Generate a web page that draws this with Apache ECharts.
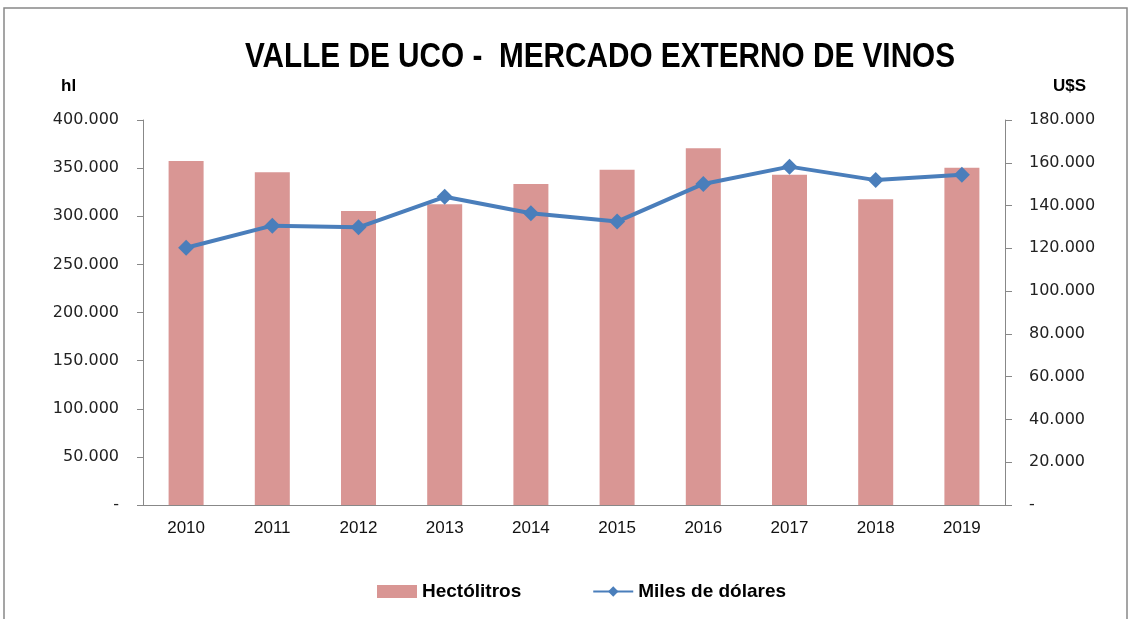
<!DOCTYPE html>
<html>
<head>
<meta charset="utf-8">
<script src="https://cdn.jsdelivr.net/npm/echarts@6/dist/echarts.min.js"></script>
<style>
  html, body { margin: 0; padding: 0; background: #fff; }
  #main { width: 1131px; height: 619px; }
</style>
</head>
<body>
<div id="main"></div>
<script>
var years = ['2010', '2011', '2012', '2013', '2014', '2015', '2016', '2017', '2018', '2019'];
var hectolitros = [357400, 345600, 305500, 312400, 333500, 348400, 370600, 343200, 317600, 350500];
var milesDolares = [120300, 130600, 129800, 144100, 136400, 132500, 150100, 158200, 151900, 154400];

function fmt(v) {
    if (v === 0) return '-';
    return v.toLocaleString('de-DE');
}

var font = "'Liberation Sans', sans-serif";
var tickFont = "'DejaVu Sans', sans-serif";

var myChart = echarts.init(document.getElementById('main'));
var option = {
    backgroundColor: '#fff',
    graphic: [
        { type: 'rect', shape: { x: 4, y: 8, width: 1123, height: 640 }, style: { fill: 'none', stroke: '#888', lineWidth: 1.5 }, silent: true },
        {
            type: 'text', x: 600, y: 40, scaleX: 0.85,
            style: { text: 'VALLE DE UCO -  MERCADO EXTERNO DE VINOS', font: 'bold 35px ' + font, fill: '#000', textAlign: 'center' }
        },
        { type: 'text', left: 61, top: 78, style: { text: 'hl', font: 'bold 17px ' + font, fill: '#000' } },
        { type: 'text', left: 1053, top: 78, style: { text: 'U$S', font: 'bold 17px ' + font, fill: '#000' } }
    ],
    legend: {
        bottom: 13,
        left: 372,
        itemGap: 71,
        itemWidth: 40,
        itemHeight: 13,
        textStyle: { fontFamily: font, fontSize: 19, fontWeight: 'bold', color: '#000' },
        data: [
            { name: 'Hectólitros', icon: 'rect' },
            { name: 'Miles de dólares' }
        ]
    },
    grid: { left: 143, right: 126, top: 120, bottom: 114 },
    xAxis: {
        type: 'category',
        data: years,
        boundaryGap: true,
        axisLine: { lineStyle: { color: '#888' } },
        axisTick: { length: 7, lineStyle: { color: '#888' } },
        axisLabel: { margin: 15, fontFamily: font, fontSize: 17, color: '#111' }
    },
    yAxis: [
        {
            type: 'value',
            min: 0, max: 400000, interval: 50000,
            axisLine: { show: true, lineStyle: { color: '#888' } },
            axisTick: { show: true, length: 6, lineStyle: { color: '#888' } },
            splitLine: { show: false },
            axisLabel: { formatter: fmt, margin: 24, fontFamily: tickFont, fontSize: 16, color: '#222' }
        },
        {
            type: 'value',
            min: 0, max: 180000, interval: 20000,
            position: 'right',
            axisLine: { show: true, lineStyle: { color: '#888' } },
            axisTick: { show: true, length: 7, lineStyle: { color: '#888' } },
            splitLine: { show: false },
            axisLabel: { formatter: fmt, margin: 24, fontFamily: tickFont, fontSize: 16, color: '#222' }
        }
    ],
    series: [
        {
            name: 'Hectólitros',
            type: 'bar',
            yAxisIndex: 0,
            barWidth: 35,
            itemStyle: { color: '#d99694' },
            data: hectolitros
        },
        {
            name: 'Miles de dólares',
            type: 'line',
            yAxisIndex: 1,
            symbol: 'diamond',
            symbolSize: 16,
            lineStyle: { width: 4, color: '#4a7ebb' },
            itemStyle: { color: '#4a7ebb' },
            data: milesDolares
        }
    ]
};
myChart.setOption(option);
</script>
</body>
</html>
